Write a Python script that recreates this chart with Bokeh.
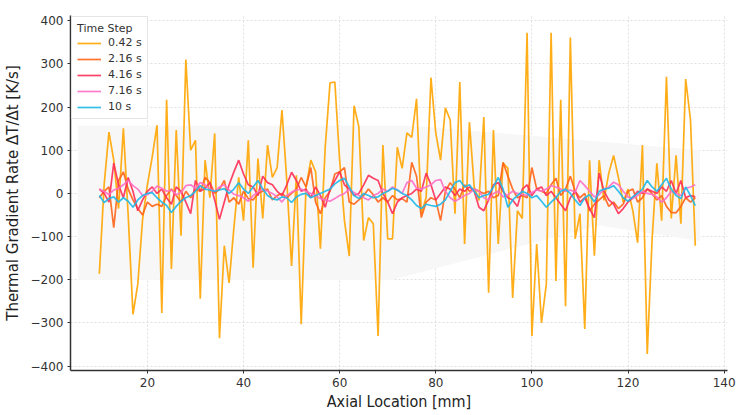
from bokeh.plotting import figure
from bokeh.models import Range1d, FixedTicker
from bokeh.embed import file_html
from bokeh.resources import INLINE

# ---- data ----
axial_mm = list(range(10, 135))  # 10 .. 134 mm

rate_042 = [-186, 20, 142, 77, -35, 151, -50, -280, -210, -60,
            20, 84, 158, -277, 217, -175, 147, -98, 310, 100,
            123, -244, 77, -10, 139, -335, -121, -207, -79, 37,
            -63, 123, -172, 81, -58, 112, 37, 60, 193, 30,
            -168, 42, -303, 14, 77, 50, -128, 107, 256, 258,
            77, -63, -145, 203, 154, -109, -56, -70, -330, 112,
            -105, -105, 107, 58, 140, 130, 219, -47, -9, 268,
            140, 77, 198, 170, -47, 258, -117, 165, 14, -16,
            177, -230, 147, -117, 70, 58, -242, -40, -58, 372,
            -330, -117, -300, -210, 372, -203, 217, -261, 361, -105,
            -47, -314, 77, -144, 77, -16, 47, 88, 37, -20,
            10, -40, -114, 112, -372, -109, 70, -63, 270, -58,
            88, -70, 265, 170, -121]

rate_216 = [-10, 5, 15, -79, 30, 50, 10, -15, -35, -50,
            -20, -30, -25, -30, -5, 10, -5, -20, 5, -10,
            10, 5, 37, 25, 0, 10, 30, -20, -10, -25,
            5, -12, -15, 0, 5, 10, -15, -5, 0, -10,
            0, 10, 37, 15, 60, -20, -47, -10, 5, 45,
            50, 60, -20, -25, -15, -5, 10, -3, -20, -10,
            -20, -5, -15, -12, -20, 72, 40, -56, -20, -10,
            -15, -63, 5, 25, 10, -10, 20, 5, 10, 5,
            0, 5, -10, -5, 72, 40, 10, -10, -5, -10,
            60, 10, 5, 0, 20, 35, -5, 10, 40, 5,
            -10, 0, -40, -25, -15, -5, -30, -20, -35, -25,
            5, 10, -20, -10, 10, 0, -15, -5, -30, -44,
            -45, -30, -10, -20, -10]

rate_416 = [10, 0, -20, 70, 20, -10, 37, 5, -40, -15,
            5, 15, 0, 10, -10, -25, 15, 5, -20, -47,
            30, 5, 12, 25, -15, -60, -20, 20, 50, 77,
            45, 20, 15, -5, 40, 25, 20, 5, -5, 20,
            49, 30, 5, 10, -10, 15, -5, -32, 10, 30,
            50, 20, 10, -5, 0, 20, 42, 35, 30, 0,
            -20, -47, -20, -10, -5, 0, 10, 5, 47, 20,
            -15, 0, 15, 10, -5, 10, 5, 15, 5, -32,
            -40, -15, 20, 25, 5, -10, -15, -30, 10, 20,
            -5, 10, 15, -5, 5, -10, -25, -40, -10, 5,
            -20, -10, -35, -56, 47, 5, -15, -25, -47, -35,
            -20, -10, 5, 0, 10, 5, 0, 15, 5, 30,
            0, 30, -10, -5, -8]

rate_716 = [10, 5, -3, 8, 12, 20, 30, 18, 10, -5,
            -3, 5, 17, 12, 5, 8, -3, 2, 18, 20,
            12, 25, 20, 10, 5, 15, 20, 8, -2, -5,
            -10, -18, -5, 3, 10, 5, 0, -8, -20, -5,
            3, 8, 10, 5, 0, -5, -12, -15, -18, -12,
            -5, 0, 10, 2, -5, -10, -15, -5, 0, 10,
            5, 15, 8, 0, 25, 30, 12, 10, 15, 20,
            30, 32, 5, -10, -18, -12, -5, 0, 10, 5,
            -10, -15, 0, 5, -8, -3, 5, 0, -2, -5,
            2, 8, 5, 10, 18, 15, 10, 5, 8, 3,
            30, 18, 5, -8, -3, 10, 15, 26, 20, 5,
            -8, -12, -5, 5, 0, -2, -8, -20, -10, 5,
            0, -5, 12, 15, 20]

rate_10 = [-5, -21, -12, -8, -20, -10, -18, -32, -15, -5,
           0, 2, -10, -20, -28, -44, -30, -18, -10, -5,
           5, 18, 10, 8, 5, 8, 11, 0, 10, 25,
           10, 0, 15, 30, 10, -5, -12, -15, -8, -10,
           -21, -8, -2, 0, -10, -5, 0, 5, 10, 22,
           30, 35, 15, -5, -12, 0, -5, -10, -8, 0,
           5, 12, 8, 0, -5, -15, -28, -35, -25, -28,
           -30, -25, -15, 5, 25, 30, 15, 20, 5, -10,
           -5, -2, 15, 37, 10, -32, -15, -5, 5, 0,
           -10, -5, -18, -32, -20, -10, 5, 10, 0, -15,
           -28, -10, -3, -20, 5, 10, 12, 18, 5, -10,
           -18, -8, 0, 10, 30, 15, 5, 20, 35, 10,
           -5, -12, 15, -5, -28]

series_labels = ["0.42 s", "2.16 s", "4.16 s", "7.16 s", "10 s"]
series_values = [rate_042, rate_216, rate_416, rate_716, rate_10]
series_colors = ["#FFA500", "#FF6418", "#FF2D55", "#FF6EC7", "#1EB8E8"]

y_ticks = [-400, -300, -200, -100, 0, 100, 200, 300, 400]
x_ticks = [20, 40, 60, 80, 100, 120, 140]

# faint background shading visible in the reference
shade_x = [5.5, 75, 135, 135, 114, 71, 5.5]
shade_y = [157, 157, 100, -110, -74, -200, -200]

p = figure(width=741, height=415, output_backend="svg", toolbar_location=None,
           x_range=Range1d(4.0, 140.7), y_range=Range1d(-410, 412))
p.min_border_left = 67
p.min_border_right = 14
p.min_border_top = 15
p.min_border_bottom = 45
p.outline_line_color = None
p.background_fill_color = "white"
p.border_fill_color = "white"

p.patch(shade_x, shade_y, fill_color="#f7f7f7", line_color=None)

for lab, vals, col in zip(series_labels, series_values, series_colors):
    p.line(axial_mm, vals, line_color=col, line_width=1.7, line_alpha=0.9,
           legend_label=lab)

for ax in (p.xaxis[0], p.yaxis[0]):
    ax.axis_line_color = "#333333"
    ax.axis_line_width = 1.5
    ax.major_tick_line_color = "#333333"
    ax.major_tick_in = 0
    ax.major_tick_out = 3
    ax.minor_tick_line_color = None
    ax.major_label_text_font = "DejaVu Sans"
    ax.major_label_text_font_size = "12px"
    ax.major_label_text_color = "#333333"
    ax.axis_label_text_font_style = "normal"
    ax.axis_label_text_color = "#222222"

p.xaxis.ticker = FixedTicker(ticks=x_ticks)
p.yaxis.ticker = FixedTicker(ticks=y_ticks)
p.xaxis.axis_label = "Axial Location [mm]"
p.xaxis.axis_label_text_font = "DejaVu Sans Condensed"
p.xaxis.axis_label_text_font_size = "16px"
p.xaxis.axis_label_standoff = 2
p.yaxis.axis_label = "Thermal Gradient Rate ΔT/Δt [K/s]"
p.yaxis.axis_label_text_font = "DejaVu Sans"
p.yaxis.axis_label_text_font_size = "15px"
p.yaxis.axis_label_standoff = 6
p.xaxis.major_label_standoff = 4
p.yaxis.major_label_standoff = 4

p.xgrid.grid_line_color = "#e0e0e0"
p.ygrid.grid_line_color = "#e0e0e0"
p.xgrid.grid_line_dash = "2 2"
p.ygrid.grid_line_dash = "2 2"

lg = p.legend[0]
lg.location = "top_left"
lg.margin = 1
lg.title = "Time Step"
lg.title_text_font = "DejaVu Sans"
lg.title_text_font_size = "11px"
lg.title_text_font_style = "normal"
lg.title_text_color = "#333333"
lg.title_standoff = 1
lg.label_text_font = "DejaVu Sans"
lg.label_text_font_size = "11px"
lg.label_text_color = "#333333"
lg.glyph_width = 24
lg.glyph_height = 12
lg.label_height = 12
lg.spacing = 3
lg.padding = 5
lg.label_standoff = 7
lg.border_line_color = "#cccccc"
lg.border_line_width = 1
lg.background_fill_alpha = 0.9

open("out.html", "w").write(file_html(p, INLINE))
